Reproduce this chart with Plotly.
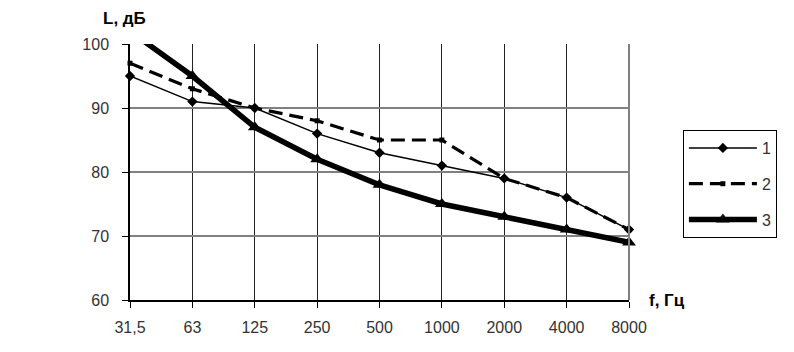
import plotly.graph_objects as go

freqs = ["31,5", "63", "125", "250", "500", "1000", "2000", "4000", "8000"]
series1 = [95, 91, 90, 86, 83, 81, 79, 76, 71]
series2 = [97, 93, 90, 88, 85, 85, 79, 76, 71]
series3 = [102, 95, 87, 82, 78, 75, 73, 71, 69]
y_ticks = [60, 70, 80, 90, 100]

xi = list(range(len(freqs)))
font = "Liberation Sans, Arial, sans-serif"

fig = go.Figure()
fig.add_trace(go.Scatter(
    x=xi, y=series1, name="1", mode="lines+markers", legendgroup="a",
    line=dict(color="black", width=1.5),
    marker=dict(symbol="diamond", size=8, color="black"), cliponaxis=False))
fig.add_trace(go.Scatter(
    x=xi, y=series2, name="2", mode="lines+markers", legendgroup="b",
    line=dict(color="black", width=3.2, dash="14px,7px"),
    marker=dict(symbol="square", size=5, color="black"), cliponaxis=False))
fig.add_trace(go.Scatter(
    x=xi, y=series3, name="3", mode="lines+markers", legendgroup="c",
    line=dict(color="black", width=5.5),
    marker=dict(symbol="triangle-up", size=12, color="black",
                opacity=[1 if v <= 100 else 0 for v in series3]),
    cliponaxis=False))

fig.update_layout(
    width=794, height=352,
    margin=dict(l=122, r=173, t=36, b=60, autoexpand=False),
    paper_bgcolor="white", plot_bgcolor="white",
    font=dict(family=font, size=16, color="#333"),
    showlegend=True,
    legend=dict(x=1.108, y=0.664, xanchor="left", yanchor="top",
                bordercolor="black", borderwidth=1, bgcolor="white",
                itemwidth=68, tracegroupgap=12,
                font=dict(family=font, size=16, color="#333")),
    xaxis=dict(range=[0, len(freqs) - 1], tickvals=xi, ticktext=freqs,
               showgrid=True, gridcolor="#222", gridwidth=1,
               showline=True, linecolor="black", linewidth=2,
               ticks="outside", ticklen=6, tickcolor="black",
               ticklabelstandoff=6, zeroline=False),
    yaxis=dict(range=[60, 100], tickvals=y_ticks,
               showgrid=True, gridcolor="#808080", gridwidth=1.5,
               showline=True, linecolor="black", linewidth=1.5,
               ticks="outside", ticklen=6, tickcolor="black",
               ticklabelstandoff=10, zeroline=False),
    shapes=[dict(type="line", xref="paper", yref="paper", x0=1, x1=1, y0=0, y1=1,
                 line=dict(color="#808080", width=2))],
    annotations=[
        dict(text="<b>L, дБ</b>", xref="paper", yref="paper", x=-0.012, y=1.10,
             xanchor="center", yanchor="middle", showarrow=False,
             font=dict(family=font, size=17, color="black")),
        dict(text="<b>f, Гц</b>", xref="paper", yref="paper", x=1.036, y=0,
             xanchor="left", yanchor="middle", showarrow=False,
             font=dict(family=font, size=17, color="black")),
    ],
)

fig.write_html("out.html")
